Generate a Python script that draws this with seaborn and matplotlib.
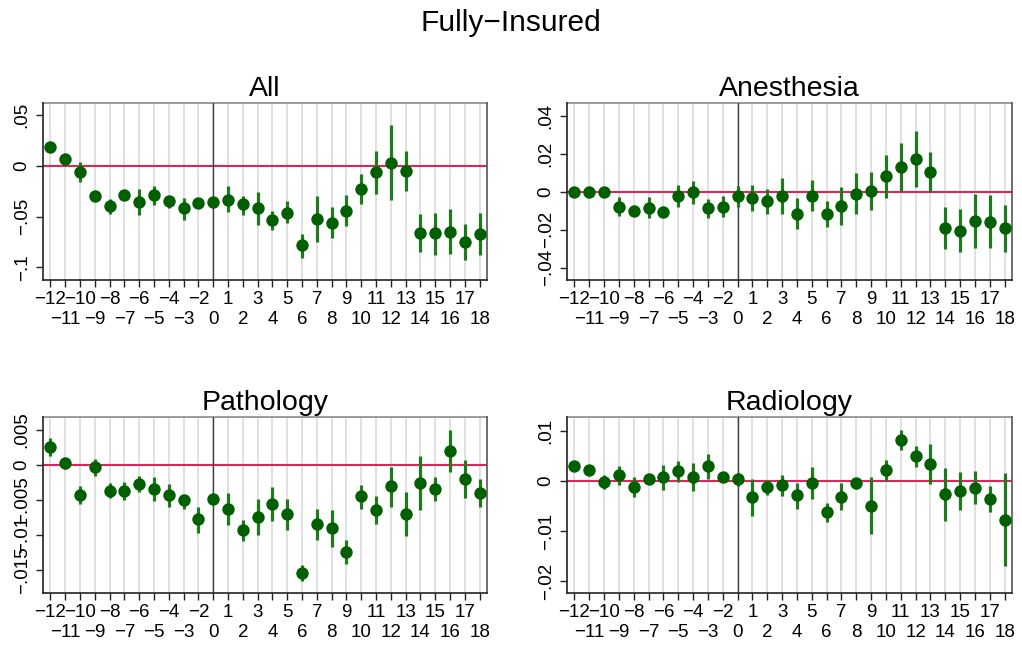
import numpy as np
import pandas as pd
import matplotlib
matplotlib.use("Agg")
import matplotlib.pyplot as plt
import seaborn as sns

# Event-time periods (period -1 is the omitted reference period)
periods = [-12, -11, -10, -9, -8, -7, -6, -5, -4, -3, -2,
           0, 1, 2, 3, 4, 5, 6, 7, 8, 9, 10, 11, 12, 13, 14, 15, 16, 17, 18]

# --- All ---
all_est = [0.019, 0.007, -0.0056, -0.0296, -0.040, -0.0286, -0.0355, -0.029, -0.035, -0.042, -0.037,
           -0.036, -0.0335, -0.038, -0.042, -0.053, -0.046, -0.078, -0.052, -0.056, -0.044, -0.023,
           -0.006, 0.003, -0.005, -0.066, -0.0665, -0.065, -0.0747, -0.067]
all_hi = [0.021, 0.009, 0.004, -0.028, -0.033, -0.025, -0.023, -0.020, -0.030, -0.032, -0.0345,
          -0.032, -0.020, -0.030, -0.026, -0.044, -0.035, -0.067, -0.030, -0.041, -0.029, -0.008,
          0.015, 0.040, 0.015, -0.047, -0.0467, -0.0425, -0.057, -0.046]
all_lo = [0.017, 0.005, -0.0155, -0.032, -0.047, -0.032, -0.048, -0.0385, -0.042, -0.053, -0.040,
          -0.041, -0.045, -0.048, -0.058, -0.063, -0.0565, -0.091, -0.075, -0.071, -0.059, -0.038,
          -0.0276, -0.0335, -0.025, -0.0845, -0.0875, -0.087, -0.093, -0.0875]

# --- Anesthesia ---
anes_est = [0.000, -0.0002, 0.000, -0.0081, -0.0103, -0.0085, -0.0106, -0.0021, -0.0002, -0.0088, -0.008,
            -0.0025, -0.0032, -0.0051, -0.0021, -0.0117, -0.0021, -0.0119, -0.0074, -0.0012, 0.0005, 0.0081,
            0.0129, 0.0172, 0.0104, -0.0189, -0.0205, -0.0154, -0.0159, -0.0193]
anes_hi = [0.002, 0.0015, 0.002, -0.003, -0.0085, -0.003, -0.008, 0.0034, 0.0057, -0.0037, -0.0025,
           0.0028, 0.0037, 0.0012, 0.0074, -0.0034, 0.0064, -0.0051, 0.0025, 0.0099, 0.0104, 0.0193,
           0.0255, 0.032, 0.0207, -0.0078, -0.0092, -0.001, -0.002, -0.007]
anes_lo = [-0.002, -0.0019, -0.002, -0.013, -0.012, -0.0138, -0.0134, -0.0078, -0.0064, -0.0138, -0.0135,
           -0.0078, -0.0103, -0.0117, -0.0117, -0.0196, -0.0103, -0.0188, -0.0173, -0.012, -0.0096, -0.0032,
           0.0002, 0.0025, -0.0002, -0.0303, -0.0317, -0.0297, -0.0297, -0.0319]

# --- Pathology ---
path_est = [0.0025, 0.0002, -0.0043, -0.0003, -0.0037, -0.0037, -0.0027, -0.0034, -0.0043, -0.0051, -0.0078,
            -0.0049, -0.0063, -0.0093, -0.0074, -0.0056, -0.0070, -0.0154, -0.0085, -0.009, -0.0124, -0.0045,
            -0.0065, -0.0031, -0.007, -0.0026, -0.0035, 0.0019, -0.0021, -0.0041]
path_hi = [0.0038, 0.0009, -0.0031, 0.0008, -0.0026, -0.0024, -0.0016, -0.0017, -0.0028, -0.0043, -0.006,
           -0.0043, -0.0041, -0.0079, -0.0049, -0.0032, -0.0049, -0.0143, -0.0063, -0.0064, -0.0107, -0.0029,
           -0.0045, -0.0003, -0.0039, 0.0013, -0.0017, 0.005, 0.0006, -0.002]
path_lo = [0.0012, -0.0006, -0.0056, -0.0016, -0.0048, -0.0050, -0.0039, -0.0052, -0.0060, -0.0063, -0.0097,
           -0.0056, -0.0086, -0.0109, -0.010, -0.008, -0.0093, -0.0166, -0.0108, -0.0118, -0.0141, -0.0063,
           -0.0085, -0.006, -0.0101, -0.0064, -0.0052, -0.0011, -0.0048, -0.0061]

# --- Radiology ---
rad_est = [0.003, 0.0022, -0.0002, 0.0011, -0.0012, 0.0003, 0.0007, 0.0019, 0.0008, 0.0029, 0.0008,
           0.0003, -0.0032, -0.0013, -0.0009, -0.0029, -0.0005, -0.0062, -0.0032, -0.0005, -0.0049, 0.0022,
           0.0081, 0.005, 0.0034, -0.0026, -0.002, -0.0015, -0.0036, -0.0077]
rad_hi = [0.0035, 0.0027, 0.0011, 0.003, 0.0007, 0.0009, 0.0032, 0.004, 0.0036, 0.0054, 0.0014,
          0.0015, 0.0004, 0.0002, 0.0012, -0.0004, 0.0028, -0.0045, -0.0005, 0.0006, 0.0008, 0.0042,
          0.0102, 0.0069, 0.0074, 0.0026, 0.0017, 0.0019, -0.001, 0.0015]
rad_lo = [0.0025, 0.0017, -0.0017, -0.0009, -0.0032, -0.0003, -0.0019, -0.0003, -0.002, 0.0004, 0.0002,
          -0.0011, -0.0069, -0.0029, -0.003, -0.0056, -0.0037, -0.0082, -0.0058, -0.0017, -0.0105, -0.0001,
          0.0061, 0.0028, -0.0007, -0.0079, -0.0057, -0.0046, -0.0062, -0.017]

panel_titles = ["All", "Anesthesia", "Pathology", "Radiology"]
panel_yticks = [
    [-0.1, -0.05, 0.0, 0.05],
    [-0.04, -0.02, 0.0, 0.02, 0.04],
    [-0.015, -0.01, -0.005, 0.0, 0.005],
    [-0.02, -0.01, 0.0, 0.01],
]
panel_ylims = [(-0.1125, 0.062), (-0.0465, 0.0467), (-0.0183, 0.0068), (-0.0223, 0.0127)]
panel_data = [
    (all_est, all_lo, all_hi),
    (anes_est, anes_lo, anes_hi),
    (path_est, path_lo, path_hi),
    (rad_est, rad_lo, rad_hi),
]

sns.set_theme(style="white")
plt.rcParams["font.family"] = ["Liberation Sans", "DejaVu Sans"]
plt.rcParams["axes.unicode_minus"] = True
plt.rcParams["text.color"] = "black"
plt.rcParams["axes.titlecolor"] = "black"
plt.rcParams["xtick.labelcolor"] = "black"
plt.rcParams["ytick.labelcolor"] = "black"

W, H = 1022, 645
fig = plt.figure(figsize=(W / 100, H / 100), dpi=100)

# axes boxes in pixels: left, top, right, bottom
boxes = [(43, 103, 487, 280), (567, 103, 1012, 280),
         (43, 417, 487, 593), (567, 417, 1012, 593)]

POINT = "#006000"
CI = "#1f7a1f"
ZERO = "#d8285a"


def stata_label(v):
    if abs(v) < 1e-12:
        return "0"
    s = f"{v:g}"
    s = s.replace("0.", ".")
    return s.replace("-", "\u2212")


x_pos = np.arange(len(periods))
ref_pos = periods.index(0)

for title, yt, ylim, (est, lo, hi), (l, t, r, b) in zip(
        panel_titles, panel_yticks, panel_ylims, panel_data, boxes):
    ax = fig.add_axes([l / W, 1 - b / H, (r - l) / W, (b - t) / H])
    df = pd.DataFrame({"pos": x_pos, "period": periods, "est": est, "lo": lo, "hi": hi})

    # light vertical grid at every period
    for xp in df["pos"]:
        ax.axvline(xp, color="#e0e0e0", lw=1.4, zorder=0)
    ax.axhline(0, color=ZERO, lw=1.5, zorder=1)
    ax.axvline(ref_pos, color="#404040", lw=1.0, zorder=1)

    ax.vlines(df["pos"], df["lo"], df["hi"], color=CI, lw=2.3, zorder=2)
    sns.scatterplot(data=df, x="pos", y="est", ax=ax, color=POINT, s=80,
                    linewidth=0, zorder=3, legend=False)

    ax.set_xlim(-0.5, len(periods) - 0.5)
    ax.set_ylim(*ylim)
    ax.set_xlabel("")
    ax.set_ylabel("")
    ax.set_title(title, fontsize=20.5, pad=5, color="black")

    # two staggered rows of period labels
    even = x_pos[::2]
    odd = x_pos[1::2]
    ax.set_xticks(even)
    ax.set_xticklabels([stata_label(periods[i]) for i in even])
    ax.set_xticks(odd, minor=True)
    ax.set_xticklabels([stata_label(periods[i]) for i in odd], minor=True)
    ax.tick_params(axis="x", which="major", direction="out", length=5, width=1,
                   color="#222222", labelsize=13.5, pad=3, bottom=True)
    ax.tick_params(axis="x", which="minor", direction="out", length=5, width=1,
                   color="#222222", labelsize=13.5, pad=17, bottom=True)

    ax.set_yticks(yt)
    ax.set_yticklabels([stata_label(v) for v in yt])
    ax.tick_params(axis="y", direction="out", length=5, width=1, color="#222222",
                   labelsize=13.5, left=True)
    for lab in ax.get_yticklabels():
        lab.set_rotation(90)
        lab.set_va("center")
        lab.set_ha("center")
    ax.tick_params(axis="y", pad=10)

    for side in ["left", "bottom"]:
        ax.spines[side].set_color("#222222")
        ax.spines[side].set_linewidth(1.2)
    ax.spines["right"].set_color("#555555")
    ax.spines["right"].set_linewidth(1.2)
    ax.spines["top"].set_color("#8a8a8a")
    ax.spines["top"].set_linewidth(1.2)
    ax.spines["top"].set_zorder(0)

fig.text(0.5, 1 - 23 / H, "Fully\u2212Insured", ha="center", va="center", fontsize=21.5,
         color="black")

fig.savefig("out.png", dpi=100, facecolor="white")
